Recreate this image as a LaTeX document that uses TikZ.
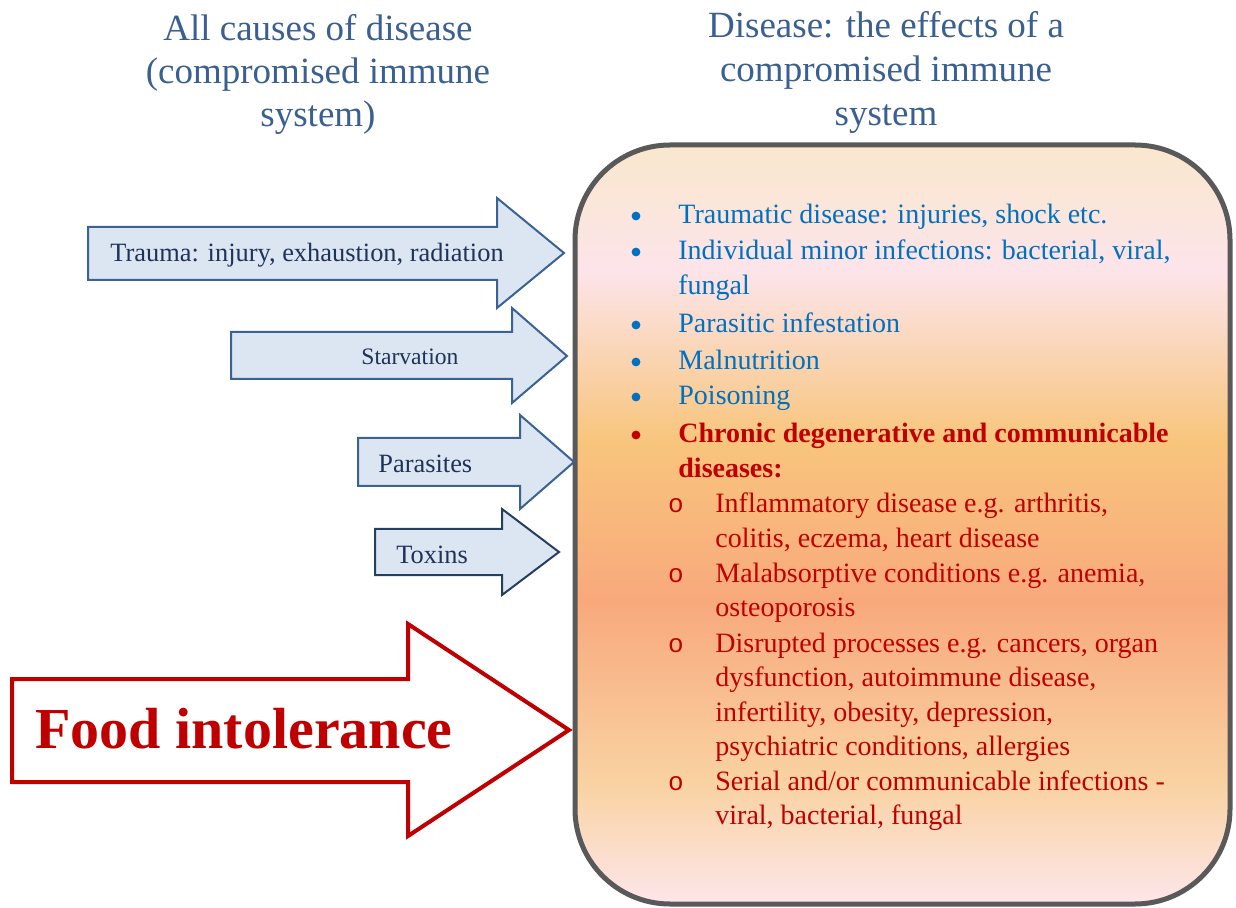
\documentclass[tikz,border=0pt]{standalone}
\usepackage{fontspec}
\setmainfont{Liberation Serif}
\newfontfamily\subbulletfont{Liberation Mono}
\usepackage{xcolor}
\usetikzlibrary{positioning}

\definecolor{titleblue}{HTML}{3A5F91}
\definecolor{arrowfill}{HTML}{DCE6F2}
\definecolor{arrowline}{HTML}{3A6293}
\definecolor{arrowdark}{HTML}{243F60}
\definecolor{arrowtext}{HTML}{1F3257}
\definecolor{itemblue}{HTML}{0070C0}
\definecolor{itemred}{HTML}{C00000}
\definecolor{boxline}{HTML}{595959}
\definecolor{shadetop}{HTML}{FAE7CF}
\definecolor{shadepink}{HTML}{FCE4EA}
\definecolor{shadeorange}{HTML}{F8C57C}
\definecolor{shadesalmon}{HTML}{F8A97C}
\definecolor{shadepeach}{HTML}{F9D2A2}
\definecolor{shadebot}{HTML}{FDE6EA}

\pgfdeclareverticalshading{effectshade}{100bp}{color(0bp)=(shadebot); color(25bp)=(shadebot); color(33bp)=(shadepeach); color(45bp)=(shadesalmon); color(55.5bp)=(shadeorange); color(66.7bp)=(shadepink); color(74.5bp)=(shadetop); color(100bp)=(shadetop)}

\begin{document}
\begin{tikzpicture}[x=0.5pt, y=-0.5pt,
  title/.style={anchor=base, inner sep=0pt, text=titleblue},
  causearrow/.style={draw=arrowline, fill=arrowfill, line width=1pt, line join=miter},
  causelabel/.style={anchor=base west, inner sep=0pt, text=arrowtext},
  blueitem/.style={anchor=base west, inner sep=0pt, text=itemblue, font=\fontsize{14}{17.25}\selectfont},
  reditem/.style={blueitem, text=itemred},
  dot/.style={circle, inner sep=0pt, minimum size=4.4pt},
  subdot/.style={anchor=base, inner sep=0pt, text=itemred, font=\fontsize{13}{14}\subbulletfont}]
\useasboundingbox (0,0) rectangle (1236,908);

% titles
\node[title, font=\fontsize{18.5}{21.5}\selectfont] (causes) at (318,41)
  {\parbox[t]{9cm}{\centering All causes of disease\\(compromised immune\\system)}};
\node[title, font=\fontsize{18.5}{22}\selectfont] (effects) at (886,38)
  {\parbox[t]{9cm}{\centering Disease: the effects of a\\compromised immune\\system}};

% box of effects
\shade[shading=effectshade, rounded corners=47.5pt] (575,145) rectangle (1230,904);
\draw[boxline, line width=2.5pt, rounded corners=47.5pt] (575,145) rectangle (1230,904);

% cause arrows
\draw[causearrow] (88,227) -- (497,227) -- (497,198) -- (564,253) -- (497,308) -- (497,280) -- (88,280) -- cycle;
\node[causelabel, font=\fontsize{13.2}{15}\selectfont] (trauma) at (110,262) {Trauma: injury, exhaustion, radiation};
\draw[causearrow] (231,332) -- (512,332) -- (512,308) -- (567,356) -- (512,403) -- (512,379) -- (231,379) -- cycle;
\node[causelabel, font=\fontsize{11.8}{14}\selectfont] (starve) at (361,365) {Starvation};
\draw[causearrow] (358,438) -- (520,438) -- (520,415) -- (574,462) -- (520,509) -- (520,486) -- (358,486) -- cycle;
\node[causelabel, font=\fontsize{13.2}{15}\selectfont] (parasite) at (378,473) {Parasites};
\draw[causearrow, draw=arrowdark] (375,529) -- (502,529) -- (502,509) -- (559,552) -- (502,595) -- (502,575) -- (375,575) -- cycle;
\node[causelabel, font=\fontsize{13.2}{15}\selectfont] (toxin) at (396,563) {Toxins};

% food intolerance
\draw[draw=itemred, fill=white, line width=2pt, line join=miter] (12,679) -- (408,679) -- (408,624) -- (569,730) -- (408,836) -- (408,782) -- (12,782) -- cycle;
\node[anchor=base west, inner sep=0pt, text=itemred, font=\fontsize{29}{32}\selectfont\bfseries] (food) at (35,748) {Food intolerance};

% effects list
\node[dot, fill=itemblue] (b1) at (636,216) {};
\node[blueitem] (i1) at (678,224) {Traumatic disease: injuries, shock etc.};
\node[dot, fill=itemblue] (b2) at (636,252) {};
\node[blueitem] (i2) at (678,260) {\parbox[t]{12cm}{Individual minor infections: bacterial, viral,\\fungal}};
\node[dot, fill=itemblue] (b3) at (636,325) {};
\node[blueitem] (i3) at (678,333) {Parasitic infestation};
\node[dot, fill=itemblue] (b4) at (636,362) {};
\node[blueitem] (i4) at (678,370) {Malnutrition};
\node[dot, fill=itemblue] (b5) at (636,397) {};
\node[blueitem] (i5) at (678,405) {Poisoning};
\node[dot, fill=itemred] (b6) at (636,435) {};
\node[reditem, font=\fontsize{14}{17.25}\selectfont\bfseries] (i6) at (678,443) {\parbox[t]{12cm}{Chronic degenerative and communicable\\diseases:}};
\node[subdot] (s1) at (676,513) {o};
\node[reditem] (j1) at (715,513) {\parbox[t]{12cm}{Inflammatory disease e.g. arthritis,\\colitis, eczema, heart disease}};
\node[subdot] (s2) at (676,582) {o};
\node[reditem] (j2) at (715,582) {\parbox[t]{12cm}{Malabsorptive conditions e.g. anemia,\\osteoporosis}};
\node[subdot] (s3) at (676,652) {o};
\node[reditem] (j3) at (715,652) {\parbox[t]{12cm}{Disrupted processes e.g. cancers, organ\\dysfunction, autoimmune disease,\\infertility, obesity, depression,\\psychiatric conditions, allergies}};
\node[subdot] (s4) at (676,790) {o};
\node[reditem] (j4) at (715,790) {\parbox[t]{12cm}{Serial and/or communicable infections -\\viral, bacterial, fungal}};
\end{tikzpicture}
\end{document}
